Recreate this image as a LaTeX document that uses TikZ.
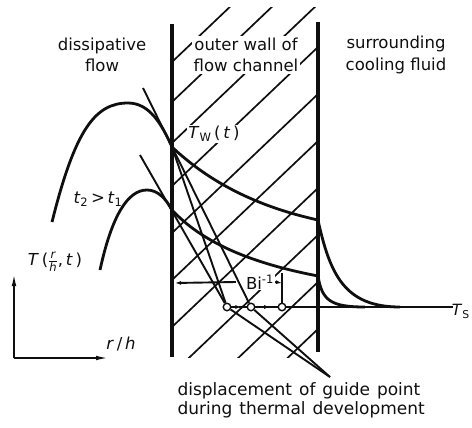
\documentclass[tikz,border=0pt]{standalone}
\usepackage{amsmath}
\usepackage{fontspec}
\setmainfont{DejaVu Sans}
\usetikzlibrary{calc,arrows.meta}
\definecolor{ink}{RGB}{15,15,15}
\newcommand{\vi}[1]{\textit{#1}}
\newcommand{\widewords}{\spaceskip=7pt plus 1pt\relax}

\begin{document}
\begin{tikzpicture}[x=1pt,y=-1pt,
    every node/.style={text=ink,font=\fontsize{16.5}{21.5}\selectfont},
    wall/.style={ink,line width=4pt},
    prof/.style={ink,line width=2.8pt},
    tang/.style={ink,line width=1.9pt},
    hatch/.style={ink,line width=1.7pt},
    guide/.style={circle,draw=ink,line width=1.4pt,fill=white,inner sep=0pt,minimum size=7.5pt},
    tip/.style={-{Latex[length=6pt,width=4pt]}},
    axtip/.style={-{Latex[length=14pt,width=4.5pt]}}]
  \useasboundingbox (0,0) rectangle (472,428);
  % hatching of the wall
  \begin{scope}
    \clip (172,8) rectangle (318,357);
    \foreach \c in {62,102,143,186,233,280,327,374,421,468}
      \draw[hatch] (172,\c) -- ++(146,-139);
  \end{scope}
  \draw[wall] (172,24) -- (172,357);
  \draw[wall] (318,22) -- (318,352);

  % region labels
  \node[align=center] (flow) at (102,55) {dissipative\\flow};
  \node[align=center,fill=white,inner sep=2pt] (chan) at (246,55) {outer wall of\\flow channel};
  \node[align=center] (cool) at (396,55) {surrounding\\cooling fluid};

  % temperature profiles at t_2 and t_1
  \coordinate (Tw) at (172,147);
  \coordinate (Tl) at (172,210);
  \coordinate (Ru) at (318,220);
  \coordinate (Rl) at (318,276);
  \draw[prof] (52,222) .. controls (75,130) and (95,103) .. (128,103)
    .. controls (150,103) and (162,125) .. (Tw)
    .. controls (205,178) and (250,205) .. (Ru)
    .. controls (330,275) and (345,307) .. (400,307);
  \draw[prof] (100,270) .. controls (112,215) and (128,190) .. (147,190)
    .. controls (158,190) and (166,199) .. (Tl)
    .. controls (200,240) and (245,262) .. (Rl)
    .. controls (322,300) and (330,307) .. (365,307);

  % guide points and tangents
  \node[guide] (c1) at (227,307) {};
  \node[guide] (c2) at (251,307) {};
  \node[guide] (c3) at (282,307) {};
  \coordinate (tu) at (143,88);
  \coordinate (tl) at (140,155);
  \draw[tang] (tu) -- (c2);
  \draw[tang] (tl) -- (c1);
  \draw[tang] (Tw) -- (c1);

  % level T_s
  \node[anchor=east,inner sep=0pt,font=\fontsize{15.5}{18}\selectfont] (Ts) at (470,311) {\vi{T}\textsubscript{S}};
  \coordinate (TsL) at (453,307);
  \draw[tang,tip] (c1) -- ($(c1)!.6!(c2)$);
  \draw[tang] ($(c1)!.5!(c2)$) -- (c2);
  \draw[tang,tip] (c2) -- ($(c2)!.62!(c3)$);
  \draw[tang] ($(c2)!.5!(c3)$) -- (c3);
  \draw[tang] (c3) -- (TsL);

  % Bi^-1
  \node[fill=white,inner sep=1pt] (bi) at (260,282) {Bi\textsuperscript{-1}};
  \coordinate (biL) at (175,283);
  \coordinate (biR) at (282,283);
  \coordinate (biT) at (282,273);
  \draw[tang,tip] ($(bi.west)+(-9,0)$) -- (biL);
  \draw[tang,tip] (bi.east) -- (biR);
  \draw[tang] (c3) -- (biT);

  \node[fill=white,inner sep=1pt] (tw) at (214,134) {\vi{T}\textsubscript{W}\,(\,\vi{t}\,)};
  \node (tt) at (98,199) {\vi{t}\textsubscript{2}\,>\,\vi{t}\textsubscript{1}};
  \node (T) at (55,262) {\vi{T}\,($\frac{\text{\itshape r}}{\text{\itshape h}}$,\,\vi{t}\,)};

  % axes
  \coordinate (O) at (14,358);
  \coordinate (xe) at (110,358);
  \coordinate (ye) at (14,272);
  \draw[tang,axtip] (O) -- (xe);
  \draw[tang,axtip] (O) -- (ye);
  \node (rh) at (121,344) {\vi{r}\,/\,\vi{h}};

  % displacement of the guide point
  \coordinate (lead) at (330,377);
  \draw[tang] (lead) -- (c1);
  \draw[tang] (lead) -- (c2);
  \node[anchor=west,align=left,font=\fontsize{17}{19}\selectfont\widewords] (disp) at (174,400) {displacement of guide point\\during thermal development};
\end{tikzpicture}
\end{document}
